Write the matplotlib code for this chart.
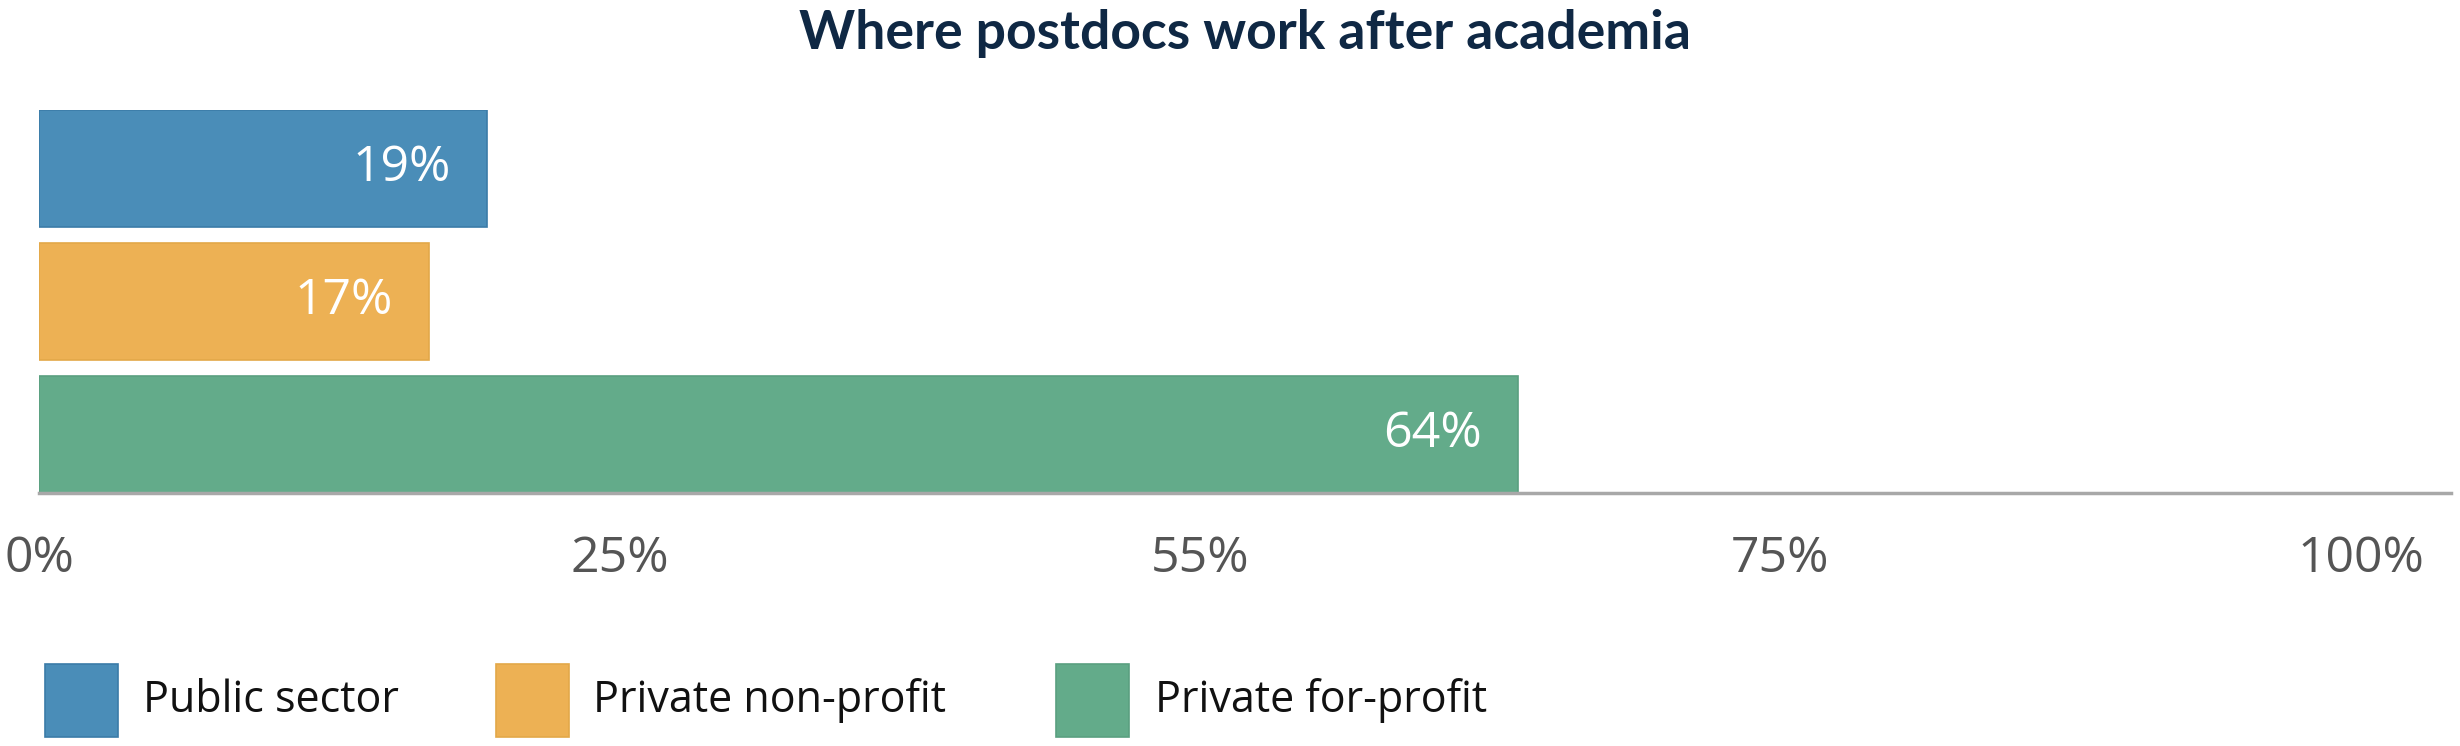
import matplotlib
matplotlib.use("Agg")
import matplotlib.pyplot as plt
from matplotlib.patches import Rectangle

categories = ["Public sector", "Private non-profit", "Private for-profit"]
values = [19.3, 16.8, 63.7]
value_labels = ["19%", "17%", "64%"]
colors = ["#4A8DB8", "#EDB154", "#63AB8A"]
edge_colors = ["#3B7BA8", "#E3A848", "#5AA080"]
tick_positions = [0, 25, 50, 75, 100]
tick_labels = ["0%", "25%", "55%", "75%", "100%"]
title = "Where postdocs work after academia"

W, H = 2460, 746
fig = plt.figure(figsize=(W / 100, H / 100), dpi=100)
ax = fig.add_axes([39 / W, 1 - 493 / H, (2451 - 39) / W, (493 - 110) / H])

ypos = list(range(len(categories)))
ax.barh(ypos, values, height=0.88, color=colors, edgecolor=edge_colors, linewidth=1.2, zorder=2)
ax.set_ylim(2.44, -0.44)
ax.set_xlim(0, 103.9)

for y, v, lab in zip(ypos, values, value_labels):
    ax.annotate(lab, (v, y), xytext=(-26, 0), textcoords="offset points",
                ha="right", va="center", color="white", fontsize=36,
                family="Open Sans", zorder=3)

for s in ["top", "right", "left"]:
    ax.spines[s].set_visible(False)
ax.spines["bottom"].set_color("#A8A8A8")
ax.spines["bottom"].set_linewidth(2.5)
ax.set_yticks([])
ax.set_xticks(tick_positions)
ax.set_xticklabels(tick_labels, fontsize=36, color="#555555", family="Open Sans")
ax.tick_params(axis="x", length=0, pad=30)

fig.text(1245 / W, 1 - 34 / H, title, ha="center", va="center", fontsize=38.5,
         fontweight="bold", color="#0F2844", family="Lato")

# legend
sq_x = [45, 496, 1056]
txt_x = [143, 593, 1155]
for cat, col, ec, sx, tx in zip(categories, colors, edge_colors, sq_x, txt_x):
    fig.patches.append(Rectangle((sx / W, 1 - 737 / H), 73 / W, 73 / H,
                                 transform=fig.transFigure, facecolor=col,
                                 edgecolor=ec, linewidth=1.2))
    fig.text(tx / W, 1 - 701 / H, cat, ha="left", va="center", fontsize=31,
             color="#111111", family="Open Sans")

fig.savefig("out.png", dpi=100, facecolor="white")
